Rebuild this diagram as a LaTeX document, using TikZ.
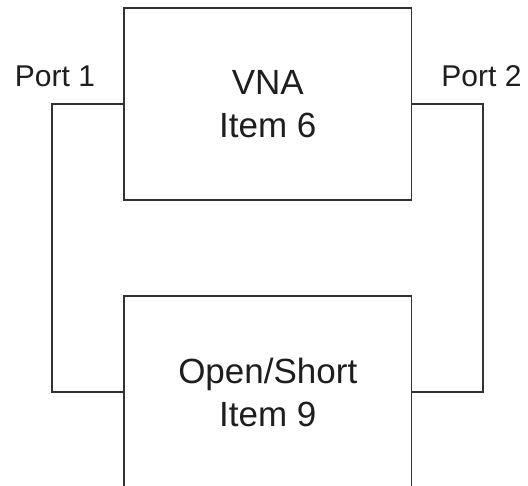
\documentclass[tikz,border=0pt]{standalone}
\usepackage{fontspec}
\setmainfont{Liberation Sans}
\definecolor{ink}{HTML}{1E1E1E}
\definecolor{wire}{HTML}{333333}
\begin{document}
\begin{tikzpicture}[x=1pt,y=-1pt,
  box/.style={draw=wire,line width=1.4pt,rectangle,minimum width=287.5pt,minimum height=192pt,inner sep=0pt,align=center,text=ink,font=\fontsize{35}{43}\selectfont},
  wireline/.style={draw=wire,line width=1.4pt},
  portlabel/.style={anchor=base,inner sep=0pt,text=ink,font=\fontsize{30}{36}\selectfont}]
\clip (0,0) rectangle (528,486);
\fill[white] (0,0) rectangle (528,486);
\node[box] (vna) at (267.75,104) {VNA\\Item 6};
\node[box] (dut) at (267.75,392) {Open/Short\\Item 9};
\coordinate (lw) at (52,0);
\coordinate (rw) at (483,0);
\draw[wireline] (vna.west) -- (vna.west -| lw) -- (dut.west -| lw) -- (dut.west);
\draw[wireline] (vna.east) -- (vna.east -| rw) -- (dut.east -| rw) -- (dut.east);
\node[portlabel] (p1) at (55,87) {Port 1};
\node[portlabel] (p2) at (481.5,87) {Port 2};
\end{tikzpicture}
\end{document}
